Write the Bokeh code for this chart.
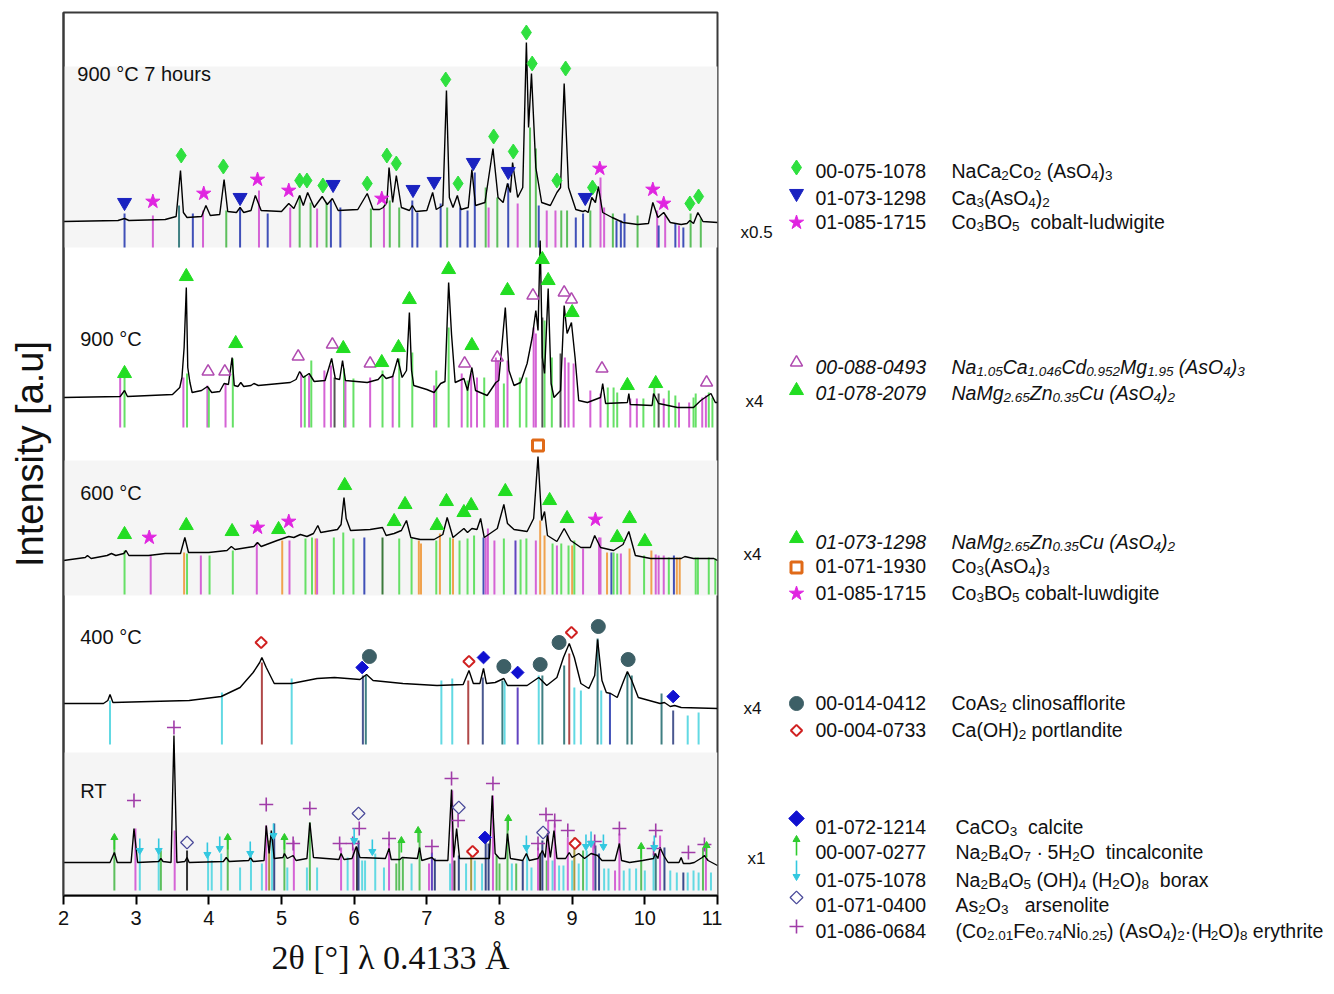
import re
from bokeh.plotting import figure
from bokeh.models import Range1d, FixedTicker
from bokeh.layouts import row
from bokeh.embed import file_html
from bokeh.resources import INLINE
from bokeh.core.properties import value

# ======================= DATA =======================
# 2theta (deg) and relative intensity (a.u., panel-local) for each pattern
P1_CURVE = [(2.00,26),(2.75,27),(2.84,29),(2.90,27),(3.40,28),(3.55,31),(3.61,77),(3.65,35),(3.70,30),(3.90,31),(3.96,42),(4.02,32),(4.15,33),(4.21,68),(4.26,36),(4.38,35),(4.43,40),(4.48,35),(4.58,37),(4.64,52),(4.72,37),(5.00,36),(5.10,44),(5.17,39),(5.25,52),(5.30,42),(5.36,55),(5.45,40),(5.56,51),(5.63,43),(5.70,49),(5.78,37),(6.05,38),(6.18,54),(6.26,38),(6.35,38),(6.40,40),(6.45,45),(6.48,80),(6.53,45),(6.58,72),(6.65,40),(6.76,37),(6.80,42),(6.85,36),(7.00,37),(7.08,55),(7.13,38),(7.22,42),(7.27,157),(7.31,50),(7.36,40),(7.42,52),(7.47,38),(7.57,40),(7.62,78),(7.67,42),(7.80,45),(7.91,99),(7.98,50),(8.05,45),(8.11,64),(8.15,55),(8.18,85),(8.25,50),(8.32,60),(8.37,205),(8.40,120),(8.44,174),(8.50,80),(8.58,45),(8.70,42),(8.79,55),(8.84,60),(8.89,164),(8.95,60),(9.05,38),(9.15,36),(9.18,37),(9.22,35),(9.27,50),(9.32,45),(9.36,61),(9.42,35),(9.55,30),(9.70,25),(9.90,23),(10.05,24),(10.11,45),(10.18,30),(10.26,35),(10.35,25),(10.50,23),(10.58,24),(10.62,27),(10.67,24),(10.73,35),(10.80,26),(11.00,25)]
P2_CURVE = [(2.00,30),(2.78,31),(2.84,37),(2.88,31),(3.50,33),(3.60,40),(3.63,50),(3.66,80),(3.69,140),(3.71,60),(3.74,45),(3.77,35),(3.90,37),(3.98,41),(4.04,35),(4.15,36),(4.21,44),(4.27,43),(4.32,70),(4.35,42),(4.40,41),(4.44,45),(4.48,41),(4.58,42),(4.62,44),(4.68,42),(5.12,45),(5.20,48),(5.25,56),(5.30,50),(5.38,54),(5.45,46),(5.60,47),(5.69,69),(5.74,49),(5.80,48),(5.84,67),(5.88,47),(6.18,45),(6.33,48),(6.39,53),(6.44,49),(6.53,51),(6.60,69),(6.66,50),(6.72,57),(6.76,115),(6.79,57),(6.82,42),(7.00,38),(7.10,35),(7.19,44),(7.25,46),(7.30,145),(7.34,93),(7.39,45),(7.51,49),(7.56,37),(7.62,60),(7.67,37),(7.83,32),(7.95,45),(7.99,47),(8.08,120),(8.13,57),(8.20,42),(8.29,45),(8.38,64),(8.45,90),(8.50,117),(8.53,97),(8.56,187),(8.59,70),(8.62,54),(8.67,139),(8.71,44),(8.75,30),(8.84,37),(8.89,122),(8.93,94),(8.99,105),(9.04,70),(9.09,27),(9.21,25),(9.39,30),(9.42,44),(9.46,24),(9.76,25),(9.78,34),(9.80,23),(10.10,22),(10.12,34),(10.19,24),(10.45,20),(10.67,20),(10.77,27),(10.91,34),(10.97,25),(11.00,25)]
P3_CURVE = [(2.00,34),(2.30,37),(2.33,39),(2.38,36),(2.60,39),(2.66,41),(2.72,39),(2.83,41),(2.86,44),(2.90,39),(3.17,39),(3.40,41),(3.61,41),(3.67,57),(3.72,42),(4.00,42),(4.25,44),(4.31,48),(4.36,45),(4.53,47),(4.62,48),(4.67,52),(4.72,48),(4.94,54),(5.10,58),(5.17,57),(5.26,60),(5.35,58),(5.44,61),(5.50,69),(5.54,62),(5.77,65),(5.82,70),(5.86,97),(5.89,76),(5.95,64),(6.22,65),(6.39,67),(6.44,59),(6.55,61),(6.65,64),(6.72,74),(6.78,57),(6.91,55),(7.10,55),(7.22,60),(7.28,77),(7.36,57),(7.51,66),(7.56,62),(7.62,66),(7.69,65),(7.74,76),(7.79,57),(7.97,66),(8.06,90),(8.11,71),(8.20,65),(8.38,63),(8.47,76),(8.53,138),(8.58,74),(8.62,83),(8.66,59),(8.79,53),(8.89,66),(8.98,54),(9.12,47),(9.25,47),(9.31,59),(9.39,47),(9.57,44),(9.70,50),(9.78,63),(9.87,39),(10.08,36),(10.31,36),(10.50,36),(10.55,38),(10.67,36),(10.95,36),(11.00,34)]
P4_CURVE = [(2.00,41),(2.55,41),(2.61,44),(2.64,50),(2.68,42),(3.20,43),(3.73,44),(4.17,48),(4.43,57),(4.61,72),(4.70,82),(4.73,87),(4.79,77),(4.90,61),(5.14,61),(5.49,66),(5.73,67),(6.08,65),(6.17,70),(6.26,64),(6.67,61),(7.14,59),(7.50,60),(7.58,74),(7.64,61),(7.73,61),(7.78,76),(7.82,61),(7.94,62),(8.06,66),(8.11,59),(8.38,59),(8.54,67),(8.65,59),(8.79,67),(8.88,87),(8.96,101),(9.03,87),(9.12,61),(9.23,56),(9.31,69),(9.35,105),(9.41,64),(9.47,52),(9.53,51),(9.62,47),(9.71,64),(9.76,73),(9.82,64),(9.91,47),(10.21,41),(10.27,42),(10.35,38),(10.41,39),(10.50,37),(11.00,36)]
P5_CURVE = [(2.00,28),(2.64,28),(2.70,38),(2.74,28),(2.93,28),(2.97,62),(3.02,28),(3.31,29),(3.34,32),(3.37,29),(3.48,28),(3.52,155),(3.56,28),(3.67,29),(3.70,33),(3.73,28),(4.20,29),(4.24,33),(4.28,29),(4.55,30),(4.57,33),(4.61,29),(4.76,30),(4.79,65),(4.83,37),(4.86,60),(4.90,32),(5.02,33),(5.04,37),(5.08,32),(5.16,35),(5.20,30),(5.35,32),(5.39,68),(5.44,33),(5.79,31),(5.82,37),(5.86,31),(5.97,32),(6.03,44),(6.08,33),(6.43,32),(6.48,42),(6.51,31),(6.63,31),(6.66,33),(6.87,32),(6.90,43),(6.93,30),(7.07,33),(7.11,30),(7.29,30),(7.34,101),(7.37,33),(7.41,62),(7.45,32),(7.77,32),(7.86,32),(7.90,95),(7.94,37),(8.00,32),(8.08,32),(8.11,57),(8.15,32),(8.32,30),(8.37,37),(8.41,30),(8.53,32),(8.59,40),(8.63,33),(8.66,57),(8.70,33),(8.75,60),(8.79,32),(8.91,32),(8.96,38),(9.00,33),(9.09,37),(9.17,32),(9.26,37),(9.35,35),(9.41,30),(9.59,30),(9.65,47),(9.68,30),(9.79,28),(9.97,30),(10.12,32),(10.14,37),(10.18,32),(10.21,43),(10.26,35),(10.32,28),(10.47,28),(10.50,33),(10.53,27),(10.62,27),(10.68,28),(10.79,33),(10.82,35),(10.87,30),(11.00,25)]

# reference reflections: (2theta, relative intensity, phase key)
P1_STICKS = [(2.84,34,"B"),(3.23,32,"M"),(3.59,42,"T"),(3.78,34,"B"),(3.92,37,"M"),(4.24,37,"G"),(4.43,40,"B"),(4.69,57,"M"),(4.81,34,"B"),(5.12,40,"M"),(5.25,52,"G"),(5.40,45,"G"),(5.49,39,"M"),(5.62,45,"G"),(5.68,47,"B"),(5.81,40,"B"),(6.23,39,"G"),(6.41,40,"M"),(6.49,47,"G"),(6.62,40,"G"),(6.80,47,"B"),(6.87,35,"B"),(7.19,44,"B"),(7.28,40,"G"),(7.46,40,"B"),(7.56,37,"B"),(7.66,75,"B"),(7.81,60,"G"),(7.85,40,"M"),(7.97,50,"G"),(8.12,64,"B"),(8.25,44,"M"),(8.42,120,"G"),(8.50,99,"G"),(8.54,42,"B"),(8.65,37,"M"),(8.77,37,"M"),(8.85,37,"G"),(8.93,37,"G"),(9.05,30,"B"),(9.15,34,"B"),(9.25,37,"G"),(9.39,70,"M"),(9.44,40,"M"),(9.56,34,"G"),(9.61,27,"B"),(9.67,27,"B"),(9.72,34,"B"),(9.90,32,"G"),(10.17,37,"M"),(10.19,22,"B"),(10.28,32,"M"),(10.42,24,"B"),(10.47,22,"M"),(10.53,20,"B"),(10.63,34,"G"),(10.77,29,"G")]
P2_STICKS = [(2.78,50,"M"),(2.84,51,"H"),(3.65,50,"M"),(3.70,54,"H"),(3.98,42,"M"),(4.00,40,"H"),(4.23,44,"M"),(4.33,69,"H"),(5.27,55,"M"),(5.32,52,"H"),(5.38,52,"M"),(5.41,67,"H"),(5.59,57,"M"),(5.68,62,"M"),(5.73,50,"D"),(5.86,59,"H"),(5.88,47,"M"),(5.99,49,"H"),(6.22,50,"M"),(6.39,57,"H"),(6.53,52,"M"),(6.62,69,"H"),(6.80,75,"H"),(7.10,42,"M"),(7.13,57,"H"),(7.30,100,"H"),(7.48,54,"M"),(7.56,47,"H"),(7.61,54,"M"),(7.69,50,"M"),(7.79,50,"H"),(7.95,70,"M"),(7.98,67,"M"),(8.06,44,"H"),(8.11,67,"M"),(8.28,50,"H"),(8.37,50,"H"),(8.47,100,"M"),(8.50,94,"M"),(8.59,110,"D"),(8.62,107,"H"),(8.72,70,"H"),(8.84,74,"D"),(8.90,70,"M"),(8.95,65,"M"),(9.02,64,"M"),(9.25,37,"M"),(9.39,34,"M"),(9.49,40,"H"),(9.57,40,"H"),(9.62,35,"H"),(9.80,29,"M"),(9.89,29,"M"),(9.98,29,"H"),(10.13,40,"H"),(10.19,34,"D"),(10.26,29,"M"),(10.33,37,"H"),(10.42,32,"H"),(10.47,25,"M"),(10.61,25,"M"),(10.67,30,"H"),(10.70,34,"H"),(10.79,30,"M"),(10.84,32,"M"),(10.88,35,"H"),(10.93,30,"H")]
P3_STICKS = [(2.84,44,"H"),(3.20,39,"M"),(3.66,42,"O"),(3.70,41,"H"),(3.89,39,"M"),(4.01,39,"H"),(4.33,44,"H"),(4.66,52,"M"),(5.01,54,"O"),(5.11,54,"M"),(5.33,56,"H"),(5.42,57,"H"),(5.47,56,"O"),(5.49,56,"M"),(5.72,57,"H"),(5.85,62,"H"),(5.99,56,"H"),(6.14,57,"B"),(6.39,57,"Y"),(6.62,56,"H"),(6.79,56,"H"),(6.89,54,"O"),(6.92,51,"O"),(7.13,54,"H"),(7.18,61,"O"),(7.32,57,"H"),(7.36,56,"O"),(7.45,54,"H"),(7.56,56,"H"),(7.65,59,"H"),(7.78,57,"B"),(7.81,57,"M"),(7.84,66,"M"),(7.93,54,"M"),(8.06,56,"H"),(8.22,54,"P"),(8.29,55,"H"),(8.37,56,"H"),(8.50,54,"M"),(8.56,74,"O"),(8.62,59,"O"),(8.73,51,"H"),(8.79,49,"M"),(8.85,51,"H"),(8.95,49,"H"),(9.00,49,"O"),(9.03,54,"H"),(9.15,46,"M"),(9.37,57,"M"),(9.39,57,"M"),(9.48,42,"O"),(9.54,42,"B"),(9.57,42,"H"),(9.62,41,"H"),(9.67,41,"M"),(9.79,46,"O"),(9.99,39,"H"),(10.09,44,"O"),(10.15,40,"M"),(10.19,39,"M"),(10.26,39,"M"),(10.33,37,"H"),(10.40,39,"B"),(10.44,37,"O"),(10.48,37,"O"),(10.70,37,"H"),(10.73,37,"H"),(10.88,37,"H"),(10.97,36,"H")]
P4_STICKS = [(2.64,44,"C"),(4.18,52,"C"),(4.73,82,"R"),(5.14,66,"C"),(6.12,69,"S"),(6.16,69,"T"),(7.20,64,"C"),(7.35,66,"C"),(7.57,64,"R"),(7.77,67,"S"),(8.04,64,"T"),(8.07,64,"C"),(8.25,57,"P"),(8.54,69,"C"),(8.59,69,"T"),(8.89,79,"T"),(8.96,91,"R"),(9.03,57,"C"),(9.12,54,"C"),(9.35,106,"T"),(9.40,54,"C"),(9.52,51,"B"),(9.76,72,"T"),(9.82,69,"T"),(10.23,51,"T"),(10.39,34,"S"),(10.59,29,"C"),(10.74,32,"C")]
P5_STICKS = [(2.70,53,"G"),(2.99,62,"M"),(3.05,37,"C"),(3.31,40,"C"),(3.34,40,"G"),(3.53,60,"M"),(3.70,40,"K"),(3.99,37,"C"),(4.04,30,"C"),(4.17,37,"C"),(4.26,53,"G"),(4.43,23,"C"),(4.58,35,"C"),(4.73,27,"C"),(4.79,65,"M"),(4.83,50,"L"),(4.87,53,"C"),(4.90,67,"N"),(5.04,53,"G"),(5.08,23,"C"),(5.17,50,"M"),(5.35,23,"C"),(5.39,68,"G"),(5.49,23,"C"),(5.82,43,"M"),(5.91,33,"C"),(5.99,43,"M"),(6.04,43,"K"),(6.06,50,"N"),(6.11,30,"C"),(6.15,30,"C"),(6.29,37,"C"),(6.41,23,"C"),(6.48,47,"M"),(6.58,27,"G"),(6.62,50,"G"),(6.67,32,"G"),(6.79,27,"C"),(6.90,58,"G"),(7.03,27,"M"),(7.07,38,"P"),(7.11,32,"N"),(7.32,27,"C"),(7.35,100,"M"),(7.38,30,"K"),(7.44,35,"N"),(7.54,27,"C"),(7.61,35,"L"),(7.66,30,"C"),(7.76,27,"C"),(7.81,50,"N"),(7.85,47,"N"),(7.91,95,"M"),(7.96,35,"G"),(8.00,27,"G"),(8.11,72,"G"),(8.17,27,"C"),(8.23,27,"G"),(8.32,30,"N"),(8.38,40,"C"),(8.44,23,"C"),(8.53,43,"M"),(8.56,37,"K"),(8.59,50,"N"),(8.65,30,"G"),(8.67,70,"M"),(8.73,30,"C"),(8.76,67,"M"),(8.82,25,"C"),(8.88,25,"C"),(8.94,53,"M"),(9.00,30,"C"),(9.03,53,"L"),(9.09,27,"C"),(9.15,40,"G"),(9.20,40,"C"),(9.29,47,"M"),(9.32,45,"N"),(9.37,37,"N"),(9.44,22,"C"),(9.50,22,"C"),(9.59,20,"M"),(9.65,57,"M"),(9.71,20,"C"),(9.79,22,"C"),(9.88,22,"C"),(9.95,43,"G"),(10.00,20,"C"),(10.12,37,"C"),(10.15,37,"T"),(10.21,55,"M"),(10.27,43,"N"),(10.35,20,"C"),(10.44,18,"C"),(10.53,18,"N"),(10.59,18,"C"),(10.67,20,"C"),(10.74,18,"C"),(10.80,43,"G"),(10.84,47,"M"),(10.91,18,"C")]

# phase markers: (2theta, relative intensity)
P1_NACA2CO2 = [(3.62,92),(4.20,81),(5.25,67),(5.35,67),(5.57,62),(6.18,64),(6.45,92),(6.58,84),(7.26,168),(7.43,64),(7.92,111),(8.19,96),(8.37,215),(8.45,184),(8.79,67),(8.91,179),(9.28,60),(10.62,44),(10.74,51)]
P1_CA3ASO4 = [(2.84,45),(4.43,50),(5.71,63),(6.81,58),(7.10,66),(7.64,85),(8.12,76),(9.18,50)]
P1_CO3BO5 = [(3.23,46),(3.93,54),(4.67,68),(5.10,57),(6.38,49),(9.38,79),(10.11,58),(10.26,44)]
P2_NACACDMG = [(3.99,56),(4.22,56),(5.23,71),(5.70,83),(6.22,64),(7.52,64),(7.97,70),(8.46,132),(8.89,135),(8.99,128),(9.41,59),(10.85,45)]
P2_NAMGZNCU = [(2.84,54),(3.69,151),(4.37,84),(5.85,79),(6.38,65),(6.61,80),(6.76,128),(7.30,158),(7.62,82),(8.11,137),(8.59,168),(8.67,147),(9.00,115),(9.76,42),(10.15,44)]
P3_NAMGZNCU = [(2.84,60),(3.69,69),(4.32,63),(4.96,65),(5.87,109),(6.55,73),(6.70,90),(7.14,69),(7.27,93),(7.51,82),(7.61,89),(8.08,103),(8.69,94),(8.93,76),(9.62,57),(9.79,76),(10.00,53)]
P3_CO3ASO4 = [(8.53,149)]
P3_CO3BO5 = [(3.18,57),(4.67,67),(5.10,73),(9.32,75)]
P4_COAS2 = [(6.21,88),(8.06,78),(8.56,80),(8.82,102),(9.36,118),(9.77,85)]
P4_CAOH2 = [(4.72,102),(7.58,83),(8.99,112)]
P4_CACO3 = [(6.11,77),(7.78,87),(8.25,72),(10.39,48)]
P5_ERYTHRITE = [(3.52,163),(2.97,90),(4.79,86),(5.16,47),(5.39,82),(5.80,47),(5.98,47),(6.07,62),(6.48,52),(7.07,44),(7.34,112),(7.43,70),(7.91,107),(8.53,47),(8.64,76),(8.76,70),(8.94,60),(9.31,49),(9.65,62),(10.15,60),(10.12,42),(10.60,38),(10.82,46)]
P5_ARSENOLITE = [(3.70,48),(6.06,77),(7.44,83),(8.60,58)]
P5_CACO3 = [(7.80,53)]
P5_CAOH2 = [(7.63,39),(9.04,47)]
P5_TINCALCONITE = [(2.70,53),(4.26,53),(5.04,53),(6.65,50),(6.88,60),(8.12,72),(9.95,44),(10.85,45)]
P5_BORAX = [(3.05,40),(3.31,40),(3.98,36),(4.15,42),(4.57,37),(4.89,55),(6.00,50),(6.25,39),(8.37,43),(9.19,44),(9.26,47),(9.43,44),(10.13,43)]

PANEL_LABELS = ["900 °C 7 hours", "900 °C", "600 °C", "400 °C", "RT"]
SCALE_LABELS = ["x0.5", "x4", "x4", "x4", "x1"]
X_TICKS = [2, 3, 4, 5, 6, 7, 8, 9, 10, 11]

LEG_CODES = ["00-075-1078", "01-073-1298", "01-085-1715",
             "00-088-0493", "01-078-2079",
             "01-073-1298", "01-071-1930", "01-085-1715",
             "00-014-0412", "00-004-0733",
             "01-072-1214", "00-007-0277", "01-075-1078", "01-071-0400", "01-086-0684"]
LEG_FORMULAS = ["NaCa_{2}Co_{2} (AsO_{4})_{3}",
                "Ca_{3}(AsO_{4})_{2}",
                "Co_{3}BO_{5}  cobalt-ludwigite",
                "Na_{1.05}Ca_{1.046}Cd_{0.952}Mg_{1.95} (AsO_{4})_{3}",
                "NaMg_{2.65}Zn_{0.35}Cu (AsO_{4})_{2}",
                "NaMg_{2.65}Zn_{0.35}Cu (AsO_{4})_{2}",
                "Co_{3}(AsO_{4})_{3}",
                "Co_{3}BO_{5} cobalt-luwdigite",
                "CoAs_{2} clinosafflorite",
                "Ca(OH)_{2} portlandite",
                "CaCO_{3}  calcite",
                "Na_{2}B_{4}O_{7} · 5H_{2}O  tincalconite",
                "Na_{2}B_{4}O_{5} (OH)_{4} (H_{2}O)_{8}  borax",
                "As_{2}O_{3}   arsenolite",
                "(Co_{2.01}Fe_{0.74}Ni_{0.25}) (AsO_{4})_{2}·(H_{2}O)_{8} erythrite"]
LEG_ITALIC = [False, False, False, True, True, True, False, False, False, False, False, False, False, False, False]
LEG_MARKERS = ["g_diamond", "b_invtri", "m_star", "m_opentri", "g_tri", "g_tri", "o_square", "m_star",
               "t_circle", "r_odiamond", "b_diamond_big", "g_arrow", "c_arrow", "s_odiamond", "p_cross"]

# ======================= STYLE / LAYOUT =======================
FONT = "Liberation Sans"
PANEL_BASE = [648, 468, 301, 151, 5]          # stick bottoms (px-like units)
BANDS = [(648, 829), (300, 435), (0, 143)]      # light grey backgrounds
PANEL_LABEL_POS = [(2.19, 822), (2.23, 557), (2.23, 403), (2.23, 259), (2.23, 105)]
COL = {"G": "#5cbf5c", "H": "#66e066", "B": "#4050b8", "M": "#d563d5", "T": "#3f7f82",
       "D": "#555555", "O": "#f0a24e", "P": "#6244c0", "C": "#62d9e3", "R": "#b04848",
       "S": "#4a5890", "N": "#3a4a8a", "K": "#333333", "L": "#a89a40", "Y": "#3c7a3c"}


def no_frame_align(fig):
    if "frame_align" in fig.properties():
        fig.frame_align = False


Y_TOP = 883
p = figure(width=722, height=986, x_range=Range1d(2, 11), y_range=Range1d(0, Y_TOP),
           output_backend="svg", toolbar_location=None, title=None,
           min_border_left=63, min_border_right=5, min_border_top=12, min_border_bottom=91)
no_frame_align(p)
p.grid.visible = False
p.background_fill_color = "white"
p.outline_line_color = "#3a3a3a"
p.outline_line_width = 2

xa = p.xaxis[0]
xa.ticker = FixedTicker(ticks=X_TICKS)
xa.minor_tick_line_color = None
xa.major_tick_in = 0
xa.major_tick_out = 9
xa.major_tick_line_width = 2
xa.axis_line_width = 2
xa.major_label_text_font = FONT
xa.major_label_text_font_size = "20px"
xa.major_label_text_color = "#111111"
xa.major_label_standoff = 6
xa.axis_label = "2θ [°] λ 0.4133 Å"
xa.axis_label_text_font = "Liberation Serif"
xa.axis_label_text_font_size = "34px"
xa.axis_label_text_font_style = "normal"
xa.axis_label_text_color = "#111111"
xa.axis_label_standoff = 11

ya = p.yaxis[0]
ya.ticker = FixedTicker(ticks=[])
ya.minor_tick_line_color = None
ya.major_tick_in = 0
ya.major_tick_out = 0
ya.major_label_standoff = 0
ya.axis_line_width = 2
ya.axis_line_color = "#3a3a3a"
ya.axis_label = "Intensity [a.u]"
ya.axis_label_text_font = FONT
ya.axis_label_text_font_size = "38px"
ya.axis_label_text_font_style = "normal"
ya.axis_label_text_color = "#111111"
ya.axis_label_standoff = 13

# grey bands
p.quad(left=[2] * len(BANDS), right=[11] * len(BANDS),
       bottom=[b[0] for b in BANDS], top=[b[1] for b in BANDS],
       fill_color="#f5f5f5", line_color=None)

# reference sticks
for base, sticks in zip(PANEL_BASE, [P1_STICKS, P2_STICKS, P3_STICKS, P4_STICKS, P5_STICKS]):
    xs = [s[0] for s in sticks]
    p.segment(x0=xs, y0=[base] * len(xs), x1=xs, y1=[base + s[1] for s in sticks],
              line_color=[COL[s[2]] for s in sticks], line_width=2)

# measured patterns
for base, curve in zip(PANEL_BASE, [P1_CURVE, P2_CURVE, P3_CURVE, P4_CURVE, P5_CURVE]):
    p.line([c[0] for c in curve], [base + c[1] for c in curve], line_color="black", line_width=1.4)


def mark(fig, pts, base, **kw):
    fig.scatter([q[0] for q in pts], [base + q[1] for q in pts], **kw)


B1, B2, B3, B4, B5 = PANEL_BASE
ST = {
    "g_diamond": dict(marker="diamond", size=15, fill_color="#2fe03f", line_color="#2fe03f"),
    "b_invtri": dict(marker="inverted_triangle", size=14, fill_color="#1a22c0", line_color="#1a22c0"),
    "m_star": dict(marker="star", size=15, fill_color="#e025e0", line_color="#e025e0"),
    "m_opentri": dict(marker="triangle", size=12, fill_color=None, line_color="#b04ab0", line_width=1.5),
    "g_tri": dict(marker="triangle", size=14, fill_color="#22dd22", line_color="#22dd22"),
    "o_square": dict(marker="square", size=11, fill_color="white", line_color="#e06a18", line_width=3),
    "t_circle": dict(marker="circle", size=14, fill_color="#3d5f66", line_color="#3d5f66"),
    "r_odiamond": dict(marker="square", angle=0.7854, size=8, fill_color="white", line_color="#d02020", line_width=2),
    "b_diamond": dict(marker="square", angle=0.7854, size=9, fill_color="#1010d0", line_color="#1010d0"),
    "b_diamond_big": dict(marker="square", angle=0.7854, size=11, fill_color="#1010d0", line_color="#1010d0"),
    "s_odiamond": dict(marker="square", angle=0.7854, size=9, fill_color=None, line_color="#4a4a9a", line_width=1.3),
    "p_cross": dict(marker="cross", size=14, line_color="#a03ca8", line_width=1.6),
}
mark(p, P1_NACA2CO2, B1, **ST["g_diamond"])
mark(p, P1_CA3ASO4, B1, **ST["b_invtri"])
mark(p, P1_CO3BO5, B1, **ST["m_star"])
mark(p, P2_NACACDMG, B2, **ST["m_opentri"])
mark(p, P2_NAMGZNCU, B2, **ST["g_tri"])
mark(p, P3_NAMGZNCU, B3, **ST["g_tri"])
mark(p, P3_CO3ASO4, B3, **ST["o_square"])
mark(p, P3_CO3BO5, B3, **ST["m_star"])
mark(p, P4_COAS2, B4, **ST["t_circle"])
mark(p, P4_CAOH2, B4, **ST["r_odiamond"])
mark(p, P4_CACO3, B4, **ST["b_diamond"])
mark(p, P5_ERYTHRITE, B5, **ST["p_cross"])
mark(p, P5_ARSENOLITE, B5, **ST["s_odiamond"])
mark(p, P5_CACO3, B5, **ST["b_diamond"])
mark(p, P5_CAOH2, B5, **ST["r_odiamond"])
# arrows: tincalconite (up, green) and borax (down, cyan)
tx = [q[0] for q in P5_TINCALCONITE]
p.segment(x0=tx, y0=[B5 + q[1] - 12 for q in P5_TINCALCONITE], x1=tx, y1=[B5 + q[1] for q in P5_TINCALCONITE],
          line_color="#2ecc2e", line_width=1.6)
mark(p, P5_TINCALCONITE, B5, marker="triangle", size=7, fill_color="#2ecc2e", line_color="#2ecc2e")
bx = [q[0] for q in P5_BORAX]
p.segment(x0=bx, y0=[B5 + q[1] for q in P5_BORAX], x1=bx, y1=[B5 + q[1] + 12 for q in P5_BORAX],
          line_color="#33c8e0", line_width=1.6)
mark(p, P5_BORAX, B5, marker="inverted_triangle", size=7, fill_color="#33c8e0", line_color="#33c8e0")

# panel labels
p.text(x=[q[0] for q in PANEL_LABEL_POS], y=[q[1] for q in PANEL_LABEL_POS], text=PANEL_LABELS,
       text_font=value(FONT), text_font_size=value("20px"), text_baseline="middle", text_align="left",
       text_color="#111111")

# ======================= LEGEND PANEL =======================
# legend panel: y coordinate = 895 - page pixel row, x = page pixel column - 722
lg = figure(width=610, height=986, x_range=Range1d(0, 610), y_range=Range1d(-91, 883),
            output_backend="svg", toolbar_location=None, title=None,
            x_axis_location=None, y_axis_location=None,
            min_border_left=0, min_border_right=0, min_border_top=12, min_border_bottom=0)
no_frame_align(lg)
lg.grid.visible = False
lg.outline_line_color = None
lg.background_fill_color = "white"

AW = {" ": 278, "(": 333, ")": 333, "-": 333, ".": 278, "·": 278, "°": 400}
for ch in "0123456789":
    AW[ch] = 556
AW.update(dict(A=667, B=667, C=722, D=722, E=667, F=611, G=778, H=722, I=278, J=500, K=667, L=556, M=833,
               N=722, O=778, P=667, Q=778, R=722, S=667, T=611, U=722, V=667, W=944, X=667, Y=667, Z=611,
               a=556, b=556, c=500, d=556, e=556, f=278, g=556, h=556, i=222, j=222, k=500, l=222, m=833,
               n=556, o=556, p=556, q=556, r=333, s=500, t=278, u=556, v=500, w=722, x=500, y=500, z=500))


def tw(s, size):
    return sum(AW.get(ch, 556) for ch in s) * size / 1000.0


MAIN_SZ, SUB_SZ = 19.5, 13.5
LEG_MARK_Y = [167, 193, 222, 362, 390, 538, 567, 593, 703, 730, 818, 843, 872, 897, 926]   # page px
LEG_TEXT_Y = [171, 198, 222, 367, 393, 542, 566, 593, 703, 730, 827, 852, 880, 905, 931]
LEG_FORMULA_X = [229] * 10 + [233] * 5
CODE_X, MARK_X = 93, 74
SCALE_POS = [(18, 232), (23, 401), (21, 554), (21, 708), (25, 858)]
BASELINE_SHIFT = 1   # text middle -> alphabetic baseline (empirical)

texts = {}   # (size, style) -> lists


def put(x, yb, s, size, style):
    key = (size, style)
    d = texts.setdefault(key, ([], [], []))
    d[0].append(x); d[1].append(yb); d[2].append(s)


for i in range(len(LEG_CODES)):
    style = "italic" if LEG_ITALIC[i] else "normal"
    yb = 895 - LEG_TEXT_Y[i] + BASELINE_SHIFT
    put(CODE_X, yb, LEG_CODES[i], MAIN_SZ, style)
    x = LEG_FORMULA_X[i]
    for part in re.split(r"(_\{[^}]*\})", LEG_FORMULAS[i]):
        if not part:
            continue
        sub = part.startswith("_{")
        s = part[2:-1] if sub else part
        size = SUB_SZ if sub else MAIN_SZ
        for piece in re.split(r"( +)", s):
            if not piece:
                continue
            if piece.strip():
                put(x, yb - (5 if sub else 0), piece, size, style)
            x += tw(piece, size)

for (size, style), (xs, ys, ss) in texts.items():
    lg.text(x=xs, y=ys, text=ss, text_font=value(FONT), text_font_size=value(f"{size}px"),
            text_font_style=style, text_baseline="alphabetic", text_align="left", text_color="#111111")

lg.text(x=[q[0] for q in SCALE_POS], y=[895 - q[1] for q in SCALE_POS], text=SCALE_LABELS,
        text_font=value(FONT), text_font_size=value("17px"), text_baseline="middle", text_align="left",
        text_color="#111111")

# legend symbols
for i, kind in enumerate(LEG_MARKERS):
    y = 895 - LEG_MARK_Y[i]
    if kind == "g_arrow":
        lg.segment(x0=[MARK_X], y0=[y - 12], x1=[MARK_X], y1=[y + 2], line_color="#2ecc2e", line_width=1.6)
        lg.scatter([MARK_X], [y + 4], marker="triangle", size=7, fill_color="#2ecc2e", line_color="#2ecc2e")
    elif kind == "c_arrow":
        lg.segment(x0=[MARK_X], y0=[y - 2], x1=[MARK_X], y1=[y + 12], line_color="#33c8e0", line_width=1.6)
        lg.scatter([MARK_X], [y - 4], marker="inverted_triangle", size=7, fill_color="#33c8e0",
                   line_color="#33c8e0")
    else:
        lg.scatter([MARK_X], [y], **ST[kind])

layout = row(p, lg)
open("out.html", "w").write(file_html(layout, INLINE))
